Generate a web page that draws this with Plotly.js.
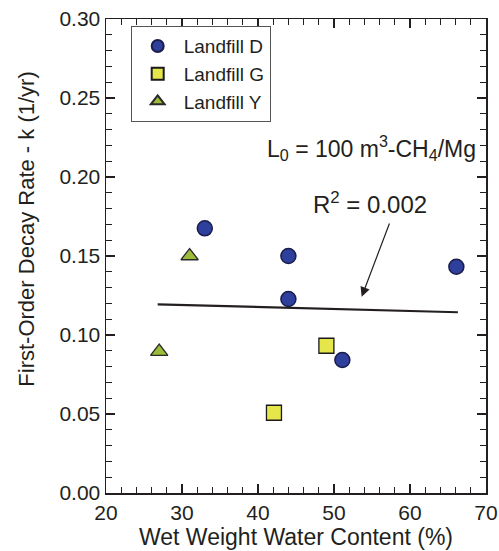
<!DOCTYPE html>
<html>
<head>
<meta charset="utf-8">
<script src="https://cdn.plot.ly/plotly-3.0.1.min.js"></script>
<style>html,body{margin:0;padding:0;background:#fff;}#chart{width:499px;height:551px;}</style>
</head>
<body>
<div id="chart"></div>
<script>
// Data
const landfillD_x = [33.0, 44.0, 44.0, 51.1, 66.1];
const landfillD_y = [0.1675, 0.150, 0.1228, 0.0842, 0.1432];
const landfillG_x = [42.1, 49.0];
const landfillG_y = [0.0508, 0.0932];
const landfillY_x = [27.0, 31.0];
const landfillY_y = [0.0895, 0.150];
const fit_x = [26.8, 66.3];
const fit_y = [0.1194, 0.1144];
const xTickVals = [20, 30, 40, 50, 60, 70];
const yTickVals = [0.00, 0.05, 0.10, 0.15, 0.20, 0.25, 0.30];
const yTickText = ["0.00", "0.05", "0.10", "0.15", "0.20", "0.25", "0.30"];

const FONT = "Liberation Sans, Arial, sans-serif";
const INK = "#231f20";

const traces = [
  {x: landfillD_x, y: landfillD_y, name: "Landfill D", type: "scatter", mode: "markers",
   marker: {symbol: "circle", size: 15, color: "#2e3f9c", line: {color: "#1a1d4a", width: 1.5}}},
  {x: landfillG_x, y: landfillG_y, name: "Landfill G", type: "scatter", mode: "markers",
   marker: {symbol: "square", size: 15, color: "#e4e64a", line: {color: "#1a1a1a", width: 1.3}}},
  {x: landfillY_x, y: landfillY_y, name: "Landfill Y", type: "scatter", mode: "markers",
   marker: {symbol: "triangle-up", size: 15, color: "#9cbb3a", line: {color: "#2a2a2a", width: 1.3}}},
  {x: fit_x, y: fit_y, type: "scatter", mode: "lines", showlegend: false, hoverinfo: "skip",
   line: {color: INK, width: 2.2}}
];

const axisCommon = {
  showline: true, linecolor: INK, linewidth: 1.5, mirror: "ticks",
  ticks: "inside", ticklen: 9, tickwidth: 1.2, tickcolor: INK,
  showgrid: false, zeroline: false,
  tickfont: {family: FONT, size: 21, color: INK}
};

const layout = {
  width: 499, height: 551,
  margin: {l: 106, r: 13, t: 19, b: 58},
  paper_bgcolor: "#fff", plot_bgcolor: "#fff",
  font: {family: FONT, color: INK},
  showlegend: true,
  legend: {x: 0.065, y: 0.985, xanchor: "left", yanchor: "top",
           bgcolor: "#fff", bordercolor: "#555", borderwidth: 1,
           font: {family: FONT, size: 19, color: INK}, itemsizing: "constant", itemwidth: 42,
           entrywidth: 116, entrywidthmode: "pixels"},
  xaxis: Object.assign({}, axisCommon, {
    range: [20, 70], tickvals: xTickVals,
    minor: {dtick: 2, ticks: "inside", ticklen: 6, tickwidth: 1, tickcolor: INK, showgrid: false},
    title: {text: "Wet Weight Water Content (%)", font: {family: FONT, size: 23, color: INK}, standoff: 5}
  }),
  yaxis: Object.assign({}, axisCommon, {
    range: [0, 0.30], tickvals: yTickVals, ticktext: yTickText,
    minor: {dtick: 0.01, ticks: "inside", ticklen: 6, tickwidth: 1, tickcolor: INK, showgrid: false}
  }),
  annotations: [
    {xref: "paper", yref: "paper", x: -0.21, y: 0.556, text: "First-Order Decay Rate - k (1/yr)",
     textangle: -90, showarrow: false, xanchor: "center", yanchor: "middle",
     font: {family: FONT, size: 22, color: INK}},
    {xref: "x", yref: "y", x: 68.9, y: 0.2185, xanchor: "right", yanchor: "middle",
     text: "L<sub>0</sub> = 100 m<sup>3</sup>-CH<sub>4</sub>/Mg", showarrow: false,
     font: {family: FONT, size: 23, color: INK}},
    {xref: "x", yref: "y", x: 54.7, y: 0.1835, xanchor: "center", yanchor: "middle",
     text: "R<sup>2</sup> = 0.002", showarrow: false,
     font: {family: FONT, size: 24, color: INK}},
    {xref: "x", yref: "y", x: 53.64, y: 0.1242, axref: "x", ayref: "y", ax: 57.37, ay: 0.1715,
     text: "", showarrow: true, arrowhead: 2, arrowsize: 1.6, arrowwidth: 1.2, arrowcolor: INK}
  ]
};

Plotly.newPlot("chart", traces, layout, {displayModeBar: false, staticPlot: true});
</script>
</body>
</html>
